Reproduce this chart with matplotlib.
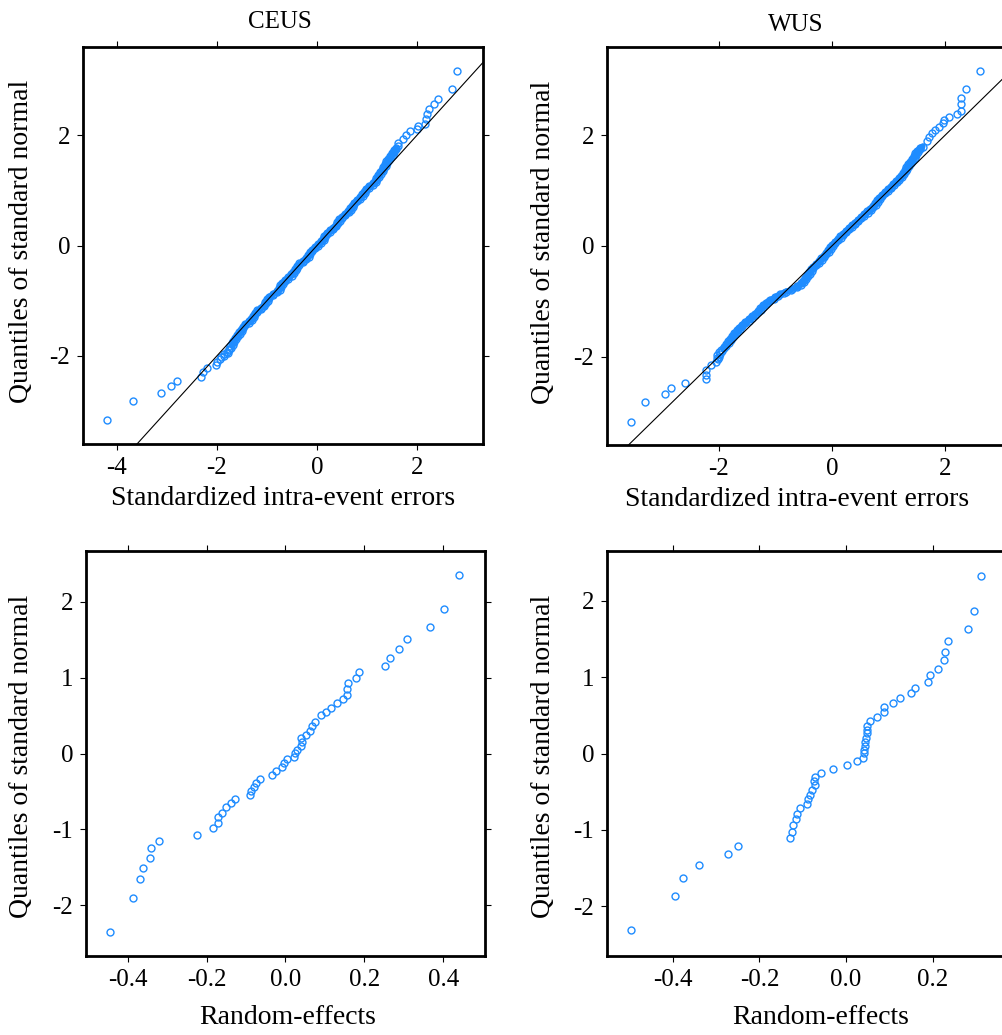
import numpy as np
import matplotlib.pyplot as plt

plt.rcParams['font.family'] = ['Liberation Serif', 'DejaVu Serif']
plt.rcParams['axes.unicode_minus'] = False

# CEUS: standardized intra-event errors (x) against normal quantiles (y)
ceus_x = [-4.19, -3.67, -3.12, -2.92, -2.80, -2.31, -2.28, -2.19, -2.01, -2.00,
          -1.935, -1.925, -1.855, -1.850, -1.785, -1.800, -1.755, -1.765, -1.715, -1.730,
          -1.685, -1.700, -1.655, -1.670, -1.625, -1.635, -1.585, -1.595, -1.545, -1.555,
          -1.505, -1.520, -1.475, -1.485, -1.435, -1.430, -1.365, -1.365, -1.305, -1.315,
          -1.265, -1.280, -1.235, -1.245, -1.195, -1.190, -1.125, -1.120, -1.055, -1.065,
          -1.015, -1.030, -0.985, -1.000, -0.955, -0.950, -0.885, -0.875, -0.805, -0.805,
          -0.745, -0.760, -0.715, -0.730, -0.685, -0.695, -0.645, -0.640, -0.575, -0.570,
          -0.505, -0.510, -0.455, -0.470, -0.425, -0.440, -0.395, -0.405, -0.355, -0.350,
          -0.285, -0.280, -0.215, -0.220, -0.165, -0.180, -0.135, -0.145, -0.095, -0.095,
          -0.035, -0.035, 0.025, 0.025, 0.085, 0.080, 0.135, 0.120, 0.165, 0.150,
          0.195, 0.195, 0.255, 0.260, 0.325, 0.325, 0.385, 0.375, 0.425, 0.410,
          0.455, 0.445, 0.495, 0.500, 0.565, 0.570, 0.635, 0.630, 0.685, 0.670,
          0.715, 0.700, 0.745, 0.740, 0.795, 0.800, 0.865, 0.865, 0.925, 0.910,
          0.955, 0.935, 0.975, 0.975, 1.035, 1.045, 1.115, 1.115, 1.175, 1.160,
          1.205, 1.190, 1.235, 1.225, 1.275, 1.265, 1.315, 1.300, 1.345, 1.330,
          1.375, 1.360, 1.405, 1.390, 1.435, 1.425, 1.475, 1.465, 1.515, 1.500,
          1.545, 1.535, 1.585, 1.575, 1.625,
          1.63, 1.73, 1.79, 1.87, 2.00, 2.03, 2.17, 2.19, 2.21, 2.25,
          2.34, 2.43, 2.71, 2.81]
ceus_q = [-3.17, -2.82, -2.67, -2.55, -2.45, -2.39, -2.30, -2.22, -2.16, -2.11,
          -2.050, -2.025, -2.000, -1.975, -1.950, -1.925, -1.900, -1.875, -1.850, -1.825,
          -1.800, -1.775, -1.750, -1.725, -1.700, -1.675, -1.650, -1.625, -1.600, -1.575,
          -1.550, -1.525, -1.500, -1.475, -1.450, -1.425, -1.400, -1.375, -1.350, -1.325,
          -1.300, -1.275, -1.250, -1.225, -1.200, -1.175, -1.150, -1.125, -1.100, -1.075,
          -1.050, -1.025, -1.000, -0.975, -0.950, -0.925, -0.900, -0.875, -0.850, -0.825,
          -0.800, -0.775, -0.750, -0.725, -0.700, -0.675, -0.650, -0.625, -0.600, -0.575,
          -0.550, -0.525, -0.500, -0.475, -0.450, -0.425, -0.400, -0.375, -0.350, -0.325,
          -0.300, -0.275, -0.250, -0.225, -0.200, -0.175, -0.150, -0.125, -0.100, -0.075,
          -0.050, -0.025, 0.000, 0.025, 0.050, 0.075, 0.100, 0.125, 0.150, 0.175,
          0.200, 0.225, 0.250, 0.275, 0.300, 0.325, 0.350, 0.375, 0.400, 0.425,
          0.450, 0.475, 0.500, 0.525, 0.550, 0.575, 0.600, 0.625, 0.650, 0.675,
          0.700, 0.725, 0.750, 0.775, 0.800, 0.825, 0.850, 0.875, 0.900, 0.925,
          0.950, 0.975, 1.000, 1.025, 1.050, 1.075, 1.100, 1.125, 1.150, 1.175,
          1.200, 1.225, 1.250, 1.275, 1.300, 1.325, 1.350, 1.375, 1.400, 1.425,
          1.450, 1.475, 1.500, 1.525, 1.550, 1.575, 1.600, 1.625, 1.650, 1.675,
          1.700, 1.725, 1.750, 1.775, 1.800,
          1.85, 1.93, 2.00, 2.07, 2.11, 2.16, 2.21, 2.30, 2.38, 2.47,
          2.56, 2.66, 2.84, 3.16]

# WUS: standardized intra-event errors (x) against normal quantiles (y)
wus_x = [-3.56, -3.30, -2.96, -2.84, -2.60, -2.23, -2.23, -2.23, -2.14, -2.05,
         -2.015, -2.040, -2.005, -2.025, -1.985, -1.995, -1.945, -1.955, -1.905, -1.915,
         -1.865, -1.875, -1.825, -1.835, -1.785, -1.795, -1.745, -1.760, -1.715, -1.725,
         -1.675, -1.680, -1.625, -1.635, -1.585, -1.590, -1.535, -1.535, -1.475, -1.475,
         -1.415, -1.420, -1.365, -1.365, -1.305, -1.310, -1.255, -1.265, -1.215, -1.220,
         -1.165, -1.165, -1.105, -1.095, -1.025, -1.015, -0.945, -0.925, -0.845, -0.815,
         -0.725, -0.705, -0.625, -0.620, -0.555, -0.555, -0.495, -0.505, -0.455, -0.470,
         -0.425, -0.440, -0.395, -0.405, -0.355, -0.370, -0.325, -0.330, -0.275, -0.280,
         -0.225, -0.230, -0.175, -0.185, -0.135, -0.145, -0.095, -0.105, -0.055, -0.065,
         -0.015, -0.030, 0.015, 0.005, 0.055, 0.050, 0.105, 0.100, 0.155, 0.150,
         0.205, 0.200, 0.255, 0.250, 0.305, 0.300, 0.355, 0.350, 0.405, 0.405,
         0.465, 0.460, 0.515, 0.520, 0.575, 0.575, 0.635, 0.630, 0.685, 0.680,
         0.735, 0.725, 0.775, 0.765, 0.815, 0.800, 0.850, 0.840, 0.895, 0.890,
         0.945, 0.940, 0.995, 0.990, 1.045, 1.040, 1.095, 1.090, 1.145, 1.140,
         1.195, 1.185, 1.235, 1.225, 1.275, 1.260, 1.305, 1.290, 1.335, 1.320,
         1.365, 1.350, 1.395, 1.385, 1.435, 1.420, 1.465, 1.450, 1.495, 1.480,
         1.525, 1.515, 1.565, 1.555, 1.605,
         1.69, 1.72, 1.77, 1.83, 1.90, 1.97, 1.99, 2.08, 2.22, 2.28,
         2.29, 2.29, 2.37, 2.62]
wus_q = [-3.18, -2.83, -2.67, -2.56, -2.47, -2.41, -2.33, -2.24, -2.16, -2.10,
         -2.050, -2.025, -2.000, -1.975, -1.950, -1.925, -1.900, -1.875, -1.850, -1.825,
         -1.800, -1.775, -1.750, -1.725, -1.700, -1.675, -1.650, -1.625, -1.600, -1.575,
         -1.550, -1.525, -1.500, -1.475, -1.450, -1.425, -1.400, -1.375, -1.350, -1.325,
         -1.300, -1.275, -1.250, -1.225, -1.200, -1.175, -1.150, -1.125, -1.100, -1.075,
         -1.050, -1.025, -1.000, -0.975, -0.950, -0.925, -0.900, -0.875, -0.850, -0.825,
         -0.800, -0.775, -0.750, -0.725, -0.700, -0.675, -0.650, -0.625, -0.600, -0.575,
         -0.550, -0.525, -0.500, -0.475, -0.450, -0.425, -0.400, -0.375, -0.350, -0.325,
         -0.300, -0.275, -0.250, -0.225, -0.200, -0.175, -0.150, -0.125, -0.100, -0.075,
         -0.050, -0.025, 0.000, 0.025, 0.050, 0.075, 0.100, 0.125, 0.150, 0.175,
         0.200, 0.225, 0.250, 0.275, 0.300, 0.325, 0.350, 0.375, 0.400, 0.425,
         0.450, 0.475, 0.500, 0.525, 0.550, 0.575, 0.600, 0.625, 0.650, 0.675,
         0.700, 0.725, 0.750, 0.775, 0.800, 0.825, 0.850, 0.875, 0.900, 0.925,
         0.950, 0.975, 1.000, 1.025, 1.050, 1.075, 1.100, 1.125, 1.150, 1.175,
         1.200, 1.225, 1.250, 1.275, 1.300, 1.325, 1.350, 1.375, 1.400, 1.425,
         1.450, 1.475, 1.500, 1.525, 1.550, 1.575, 1.600, 1.625, 1.650, 1.675,
         1.700, 1.725, 1.750, 1.775, 1.800,
         1.90, 1.98, 2.05, 2.10, 2.16, 2.22, 2.28, 2.33, 2.39, 2.45,
         2.56, 2.67, 2.84, 3.16]

# random-effects (x) against normal quantiles (y)
ceus_re = [-0.446, -0.388, -0.370, -0.361, -0.343, -0.341, -0.322, -0.224, -0.183, -0.170,
           -0.170, -0.160, -0.152, -0.138, -0.127, -0.089, -0.087, -0.080, -0.074, -0.064,
           -0.035, -0.024, -0.008, -0.003, 0.003, 0.021, 0.023, 0.028, 0.040, 0.041,
           0.039, 0.053, 0.063, 0.068, 0.074, 0.089, 0.102, 0.115, 0.131, 0.146,
           0.156, 0.157, 0.159, 0.180, 0.186, 0.252, 0.265, 0.287, 0.309, 0.367,
           0.403, 0.440]
ceus_re_q = [-2.348, -1.903, -1.661, -1.507, -1.374, -1.251, -1.154, -1.070, -0.987, -0.916,
             -0.837, -0.784, -0.709, -0.652, -0.599, -0.546, -0.489, -0.445, -0.392, -0.335,
             -0.278, -0.225, -0.172, -0.128, -0.079, -0.040, 0.009, 0.048, 0.101, 0.150,
             0.198, 0.238, 0.295, 0.357, 0.410, 0.502, 0.551, 0.599, 0.661, 0.718,
             0.771, 0.846, 0.925, 0.996, 1.075, 1.159, 1.260, 1.379, 1.511, 1.670,
             1.907, 2.357]
wus_re = [-0.496, -0.395, -0.377, -0.339, -0.272, -0.249, -0.129, -0.125, -0.123, -0.115,
          -0.113, -0.106, -0.091, -0.088, -0.082, -0.079, -0.072, -0.073, -0.071, -0.058,
          -0.030, 0.002, 0.025, 0.040, 0.041, 0.042, 0.044, 0.045, 0.047, 0.048,
          0.048, 0.049, 0.055, 0.072, 0.087, 0.088, 0.108, 0.124, 0.151, 0.160,
          0.190, 0.193, 0.212, 0.227, 0.229, 0.236, 0.283, 0.295, 0.312]
wus_re_q = [-2.315, -1.863, -1.629, -1.464, -1.316, -1.212, -1.107, -1.021, -0.938, -0.856,
            -0.786, -0.712, -0.660, -0.590, -0.538, -0.473, -0.412, -0.364, -0.312, -0.252,
            -0.204, -0.148, -0.100, -0.061, 0.004, 0.052, 0.104, 0.156, 0.208, 0.265,
            0.312, 0.356, 0.421, 0.482, 0.542, 0.603, 0.664, 0.720, 0.790, 0.859,
            0.937, 1.024, 1.111, 1.219, 1.323, 1.466, 1.631, 1.870, 2.321]

# reference line through the intra-event panels (slope, intercept)
ceus_line = (1.0, 0.0)
wus_line = (1.0, 0.0)

# quantile range where the circles pile up into a solid band
ceus_dense = (-1.8, 1.75)
wus_dense = (-1.85, 1.8)

W, H = 1003, 1035
fig = plt.figure(figsize=(W / 100, H / 100), dpi=100)
blue = '#1E8CFF'


def px(x0, y0, x1, y1):
    return [x0 / W, 1 - y1 / H, (x1 - x0) / W, (y1 - y0) / H]


def panel(rect, x, y, xlim, ylim, xticks, yticks, fmt):
    ax = fig.add_axes(rect)
    ax.plot(x, y, 'o', mfc='none', mec=blue, ms=5, mew=1.0, zorder=3)
    ax.set_xlim(xlim)
    ax.set_ylim(ylim)
    ax.set_xticks(xticks)
    ax.set_yticks(yticks)
    ax.set_xticklabels([fmt.format(t) for t in xticks])
    ax.set_yticklabels(['{:g}'.format(t) for t in yticks])
    ax.tick_params(direction='out', length=4.3, width=0.8, top=True, right=True,
                   labelsize=18, pad=5)
    for s in ax.spines.values():
        s.set_linewidth(2)
    ax.set_ylabel('Quantiles of standard normal', fontsize=20)
    return ax


def fill_band(ax, x, y, lims):
    # overlapping circles in the bulk of the sample read as one thick stroke
    x, y = np.asarray(x), np.asarray(y)
    m = (y >= lims[0]) & (y <= lims[1])
    ax.plot(x[m], y[m], color=blue, lw=4.3, solid_capstyle='round',
            solid_joinstyle='round', zorder=2)


def ref_line(ax, line, xlim):
    xs = np.array(xlim)
    ax.plot(xs, line[0] * xs + line[1], color='black', lw=0.8, zorder=4)


ax1 = panel(px(83, 47, 483, 444), ceus_x, ceus_q, (-4.68, 3.32), (-3.6, 3.6),
            [-4, -2, 0, 2], [-2, 0, 2], '{:g}')
fill_band(ax1, ceus_x, ceus_q, ceus_dense)
ref_line(ax1, ceus_line, (-4.68, 3.32))
ax1.set_xlabel('Standardized intra-event errors', fontsize=20)
ax1.text(0.4925, 1.048, 'CEUS', transform=ax1.transAxes, ha='center',
         va='baseline', fontsize=18)
ax1.yaxis.set_label_coords(-0.1225, 0.51)
ax1.xaxis.set_label_coords(0.501, -0.105)

ax2 = panel(px(607, 47, 1007, 445), wus_x, wus_q, (-3.98, 3.10), (-3.6, 3.6),
            [-2, 0, 2], [-2, 0, 2], '{:g}')
fill_band(ax2, wus_x, wus_q, wus_dense)
ref_line(ax2, wus_line, (-3.98, 3.10))
ax2.set_xlabel('Standardized intra-event errors', fontsize=20)
ax2.text(0.471, 1.04, 'WUS', transform=ax2.transAxes, ha='center',
         va='baseline', fontsize=18)
ax2.yaxis.set_label_coords(-0.1275, 0.51)
ax2.xaxis.set_label_coords(0.474, -0.105)

ax3 = panel(px(86, 551, 485, 956), ceus_re, ceus_re_q, (-0.506, 0.506), (-2.67, 2.67),
            [-0.4, -0.2, 0.0, 0.2, 0.4], [-2, -1, 0, 1, 2], '{:.1f}')
ax3.set_xlabel('Random-effects', fontsize=20)
ax3.yaxis.set_label_coords(-0.13, 0.493)
ax3.xaxis.set_label_coords(0.505, -0.12)

ax4 = panel(px(607, 551, 1007, 956), wus_re, wus_re_q, (-0.552, 0.372), (-2.65, 2.65),
            [-0.4, -0.2, 0.0, 0.2], [-2, -1, 0, 1, 2], '{:.1f}')
ax4.set_xlabel('Random-effects', fontsize=20)
ax4.yaxis.set_label_coords(-0.1275, 0.493)
ax4.xaxis.set_label_coords(0.535, -0.12)

fig.savefig('out.png', dpi=100)
